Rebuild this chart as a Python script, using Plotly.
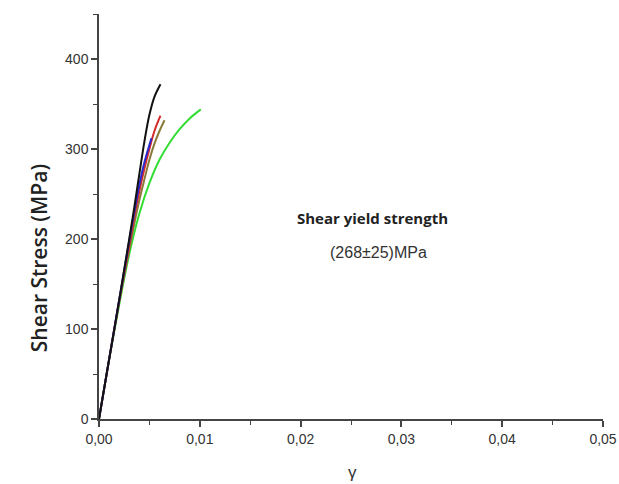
import plotly.graph_objects as go

black_x = [0, 0.001, 0.002, 0.003, 0.0035, 0.004, 0.0045, 0.005, 0.0055, 0.0061]
black_y = [0, 66, 132, 200, 235, 272, 308, 338, 358, 372]
blue_x = [0, 0.001, 0.002, 0.003, 0.0035, 0.004, 0.0045, 0.0052]
blue_y = [0, 66, 132, 198, 230, 260, 285, 312]
red_x = [0, 0.001, 0.002, 0.003, 0.0035, 0.004, 0.0045, 0.005, 0.0055, 0.0061]
red_y = [0, 66, 131, 193, 225, 253, 278, 300, 320, 337]
olive_x = [0, 0.001, 0.002, 0.003, 0.0035, 0.004, 0.0045, 0.005, 0.0055, 0.006, 0.0065]
olive_y = [0, 66, 130, 188, 217, 243, 266, 288, 306, 320, 332]
green_x = [0, 0.001, 0.002, 0.003, 0.004, 0.005, 0.006, 0.007, 0.008, 0.009, 0.0101]
green_y = [0, 66, 127, 183, 228, 262, 288, 307, 322, 334, 344]

x_ticks = [0, 0.01, 0.02, 0.03, 0.04, 0.05]
x_labels = ["0,00", "0,01", "0,02", "0,03", "0,04", "0,05"]
y_ticks = [0, 100, 200, 300, 400]

series = [
    (green_x, green_y, "#33dd33"),
    (olive_x, olive_y, "#8a7a3a"),
    (red_x, red_y, "#d42a2a"),
    (blue_x, blue_y, "#2a2ad0"),
    (black_x, black_y, "#111111"),
]

fig = go.Figure()
for xs, ys, c in series:
    fig.add_trace(go.Scatter(x=xs, y=ys, mode="lines",
                             line=dict(color=c, width=2, shape="spline", smoothing=1.0),
                             showlegend=False, hoverinfo="skip"))

axcol = "#444444"
fig.update_layout(
    width=619, height=484,
    margin=dict(l=99, r=16, t=14, b=65),
    paper_bgcolor="white", plot_bgcolor="white",
    font=dict(family="Liberation Sans, Arial", size=14, color="#333333"),
    xaxis=dict(range=[0, 0.05], tickvals=x_ticks, ticktext=x_labels, automargin=False,
               showline=True, linecolor=axcol, linewidth=1.5,
               ticks="outside", ticklen=6, tickwidth=1.5, tickcolor=axcol,
               minor=dict(dtick=0.005, ticks="outside", ticklen=4, tickwidth=1.2, tickcolor=axcol),
               showgrid=False, zeroline=False),
    yaxis=dict(range=[0, 450], tickvals=y_ticks, automargin=False,
               showline=True, linecolor=axcol, linewidth=1.5,
               ticks="outside", ticklen=6, tickwidth=1.5, tickcolor=axcol,
               minor=dict(dtick=50, ticks="outside", ticklen=4, tickwidth=1.2, tickcolor=axcol),
               showgrid=False, zeroline=False),
    annotations=[
        dict(x=-0.119, y=0.397, xref="paper", yref="paper", text="Shear Stress (MPa)", textangle=-90,
             showarrow=False, xanchor="center", yanchor="middle",
             font=dict(family="Open Sans", size=21, color="#222222", weight=600)),
        dict(x=0.502, y=-0.131, xref="paper", yref="paper", text="γ", showarrow=False,
             xanchor="center", yanchor="middle",
             font=dict(family="Liberation Sans", size=17, color="#333333")),
        dict(x=0.02718, y=223, xref="x", yref="y", text="<b>Shear yield strength</b>", showarrow=False,
             font=dict(family="Open Sans", size=15, color="#222222")),
        dict(x=0.02768, y=185, xref="x", yref="y", text="(268±25)MPa", showarrow=False,
             font=dict(family="Liberation Sans", size=16, color="#333333")),
    ],
)

fig.write_html("out.html", config={"displayModeBar": False},
               post_script="document.body.style.margin='0';")
